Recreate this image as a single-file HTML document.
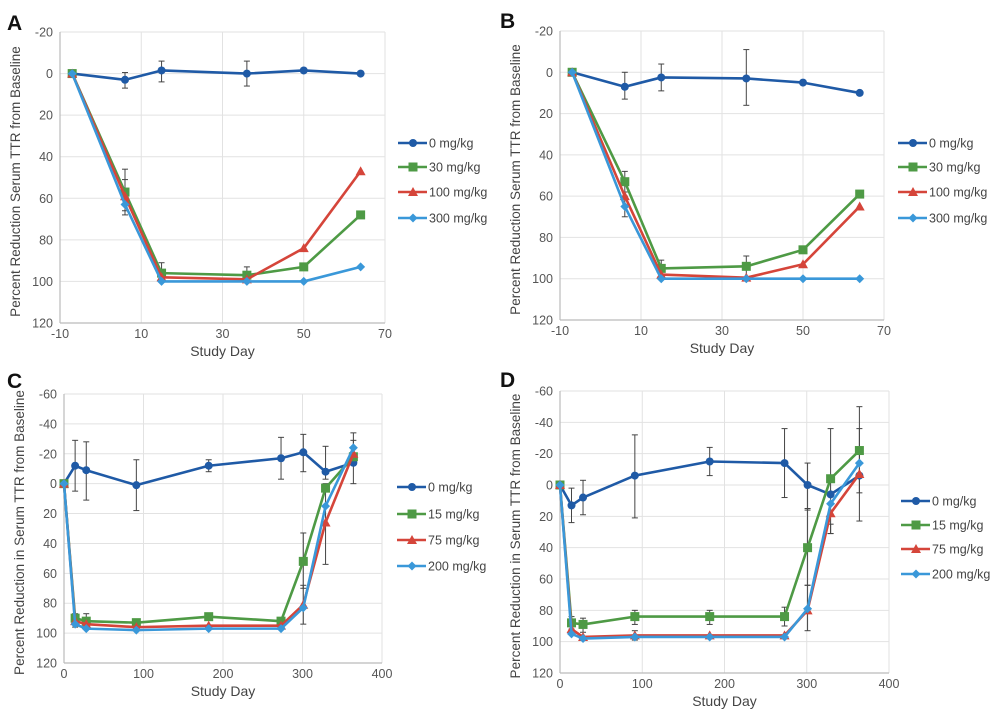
<!DOCTYPE html>
<html><head><meta charset="utf-8">
<style>
html,body{margin:0;padding:0;background:#fff;}
svg{display:block;font-family:"Liberation Sans",sans-serif;}
</style></head>
<body>
<svg id="fig" width="1005" height="714" viewBox="0 0 1005 714"></svg>
<script>
// ---------- Panel A data ----------
const aDays = [-7, 6, 15, 36, 50, 64];
const aS0 = [0, 3, -1.5, 0, -1.5, 0];
const aS1 = [0, 57, 96, 97, 93, 68];
const aS2 = [0, 59, 98, 99, 84, 47];
const aS3 = [0, 63, 100, 100, 100, 93];
const aErr = [[6,-0.5,7],[15,-6,4],[36,-6,6],[6,46,66],[6,51,68],[15,91,100],[36,93,100]];
const aLegend = ["0 mg/kg","30 mg/kg","100 mg/kg","300 mg/kg"];
const abXTicks = [-10, 10, 30, 50, 70];
const abYTicks = [-20, 0, 20, 40, 60, 80, 100, 120];
// ---------- Panel B data ----------
const bDays = [-7, 6, 15, 36, 50, 64];
const bS0 = [0, 7, 2.5, 3, 5, 10];
const bS1 = [0, 53, 95, 94, 86, 59];
const bS2 = [0, 60, 98, 99.5, 93, 65];
const bS3 = [0, 65, 100, 100, 100, 100];
const bErr = [[6,0,13],[15,-4,9],[36,-11,16],[6,48,58],[6,60,70],[15,91,100],[36,89,100]];
// ---------- Panel C data ----------
const cDays = [0, 14, 28, 91, 182, 273, 301, 329, 364];
const cS0 = [0, -12, -9, 1, -12, -17, -21, -8, -14];
const cS1 = [0, 90, 92, 93, 89, 92, 52, 3, -18];
const cS2 = [0, 92, 94, 96, 95, 95, 81, 26, -20];
const cS3 = [0, 94, 97, 98, 97, 97, 83, 15, -24];
const cErr = [[14,-29,5],[28,-28,11],[91,-16,18],[182,-16,-8],[273,-31,-3],[301,-33,-8],[329,-25,-3],[364,-29,0],[301,33,70],[301,68,94],[329,0,54],[364,-34,-20],[14,87,96],[28,87,96]];
const cLegend = ["0 mg/kg","15 mg/kg","75 mg/kg","200 mg/kg"];
const cdXTicks = [0, 100, 200, 300, 400];
const cdYTicks = [-60, -40, -20, 0, 20, 40, 60, 80, 100, 120];
// ---------- Panel D data ----------
const dDays = [0, 14, 28, 91, 182, 273, 301, 329, 364];
const dS0 = [0, 13, 8, -6, -15, -14, 0, 6, -6];
const dS1 = [0, 88, 89, 84, 84, 84, 40, -4, -22];
const dS2 = [0, 92, 97, 96, 96, 96, 80, 18, -7];
const dS3 = [0, 95, 98, 97, 97, 97, 79, 12, -14];
const dErr = [[14,2,24],[28,-3,19],[91,-32,21],[182,-24,-6],[273,-36,8],[301,-14,16],[329,-36,31],[364,-50,5],[364,-36,23],[301,15,64],[301,64,93],[329,25,31],[14,84,92],[28,85,94],[91,80,89],[182,80,89],[273,78,90],[91,93,99]];

const colors = ["#1f5aa6","#4e9a45","#d5453a","#3a98d9"];
const NS = "http://www.w3.org/2000/svg";
const svg = document.getElementById('fig');
function mk(tag, attrs, parent){
  const e = document.createElementNS(NS, tag);
  for (const k in attrs) e.setAttribute(k, attrs[k]);
  (parent||svg).appendChild(e);
  return e;
}
function marker(g, type, x, y, c){
  let m;
  if (type===0) m = mk('circle',{cx:x,cy:y,r:4,fill:c},g);
  else if (type===1) m = mk('rect',{x:x-4.5,y:y-4.5,width:9,height:9,fill:c},g);
  else if (type===2) m = mk('polygon',{points:`${x},${y-5} ${x+5},${y+4} ${x-5},${y+4}`,fill:c},g);
  else m = mk('polygon',{points:`${x},${y-4.5} ${x+4.5},${y} ${x},${y+4.5} ${x-4.5},${y}`,fill:c},g);
  return m;
}
function panel(id, letter, cfg, days, series, errs, legend, xTicks, yTicks, ylabel){
  const g = mk('g',{});
  
  
  const X = v => cfg.x0 + (v - xTicks[0])/(xTicks[xTicks.length-1]-xTicks[0])*(cfg.x1-cfg.x0);
  const Y = v => cfg.y0 + (v - yTicks[0])/(yTicks[yTicks.length-1]-yTicks[0])*(cfg.y1-cfg.y0);
  const lt = mk('text',{x:cfg.lx,y:cfg.ly,'font-size':21,'font-weight':'bold',fill:'#111'},g);
  lt.textContent = letter;
  
  
  xTicks.forEach(t=>{
    const l = mk('line',{x1:X(t),x2:X(t),y1:cfg.y0,y2:cfg.y1,stroke:'#e2e2e2','stroke-width':1},g);
    
    
    const tx = mk('text',{x:X(t),y:cfg.y1+15,'font-size':12.5,fill:'#555','text-anchor':'middle'},g);
    tx.textContent = t;
    
    
  });
  yTicks.forEach(t=>{
    const l = mk('line',{x1:cfg.x0,x2:cfg.x1,y1:Y(t),y2:Y(t),stroke:'#e2e2e2','stroke-width':1},g);
    
    
    const tx = mk('text',{x:cfg.x0-7,y:Y(t)+4.5,'font-size':12.5,fill:'#555','text-anchor':'end'},g);
    tx.textContent = t<0 ? '-'+(-t) : t;
    
    
  });
  const ax = mk('line',{x1:cfg.x0,x2:cfg.x1,y1:cfg.y1,y2:cfg.y1,stroke:'#bbb','stroke-width':1.2},g);
  
  
  const ay = mk('line',{x1:cfg.x0,x2:cfg.x0,y1:cfg.y0,y2:cfg.y1,stroke:'#bbb','stroke-width':1.2},g);
  
  
  const xt = mk('text',{x:(cfg.x0+cfg.x1)/2,y:cfg.y1+33,'font-size':14,fill:'#444','text-anchor':'middle'},g);
  xt.textContent = 'Study Day';
  
  
  const cy = (cfg.y0+cfg.y1)/2 + 4;
  const yt = mk('text',{x:0,y:0,'font-size':13.5,fill:'#444','text-anchor':'middle',transform:`translate(${cfg.x0-40},${cy}) rotate(-90)`},g);
  yt.textContent = ylabel;
  
  
  errs.forEach(e=>{
    const x = X(e[0]);
    const eg = mk('g',{stroke:'#444','stroke-width':1},g);
    
    
    mk('line',{x1:x,x2:x,y1:Y(e[1]),y2:Y(e[2])},eg);
    mk('line',{x1:x-3,x2:x+3,y1:Y(e[1]),y2:Y(e[1])},eg);
    mk('line',{x1:x-3,x2:x+3,y1:Y(e[2]),y2:Y(e[2])},eg);
  });
  series.forEach((s,i)=>{
    const sg = mk('g',{},g);
    
    
    const pts = days.map((d,j)=>X(d)+','+Y(s[j])).join(' ');
    mk('polyline',{points:pts,fill:'none',stroke:colors[i],'stroke-width':2.6,'stroke-linejoin':'round'},sg);
    days.forEach((d,j)=>{
      const m = marker(sg,i,X(d),Y(s[j]),colors[i]);
      
      
    });
  });
  legend.forEach((name,i)=>{
    const y = cfg.legY[i];
    const lg = mk('g',{},g);
    
    
    mk('line',{x1:cfg.legX,x2:cfg.legX+29,y1:y,y2:y,stroke:colors[i],'stroke-width':2.6},lg);
    marker(lg,i,cfg.legX+15,y,colors[i]);
    const t = mk('text',{x:cfg.legX+31,y:y+4.5,'font-size':12.5,fill:'#444'},lg);
    t.textContent = name;
  });
}
panel('a','A',{x0:60,x1:385,y0:32,y1:323,lx:7,ly:30,legX:398,legY:[143,167,192,218]},
  aDays,[aS0,aS1,aS2,aS3],aErr,aLegend,abXTicks,abYTicks,'Percent Reduction Serum TTR from Baseline');
panel('b','B',{x0:560,x1:884,y0:31,y1:320,lx:500,ly:28,legX:898,legY:[143,167,192,218]},
  bDays,[bS0,bS1,bS2,bS3],bErr,aLegend,abXTicks,abYTicks,'Percent Reduction Serum TTR from Baseline');
panel('c','C',{x0:64,x1:382,y0:394,y1:663,lx:7,ly:388,legX:397,legY:[487,514,540,566]},
  cDays,[cS0,cS1,cS2,cS3],cErr,cLegend,cdXTicks,cdYTicks,'Percent Reduction in Serum TTR from Baseline');
panel('d','D',{x0:560,x1:889,y0:391,y1:673,lx:500,ly:387,legX:901,legY:[501,525,549,574]},
  dDays,[dS0,dS1,dS2,dS3],dErr,cLegend,cdXTicks,cdYTicks,'Percent Reduction in Serum TTR from Baseline');
</script>
</body></html>
